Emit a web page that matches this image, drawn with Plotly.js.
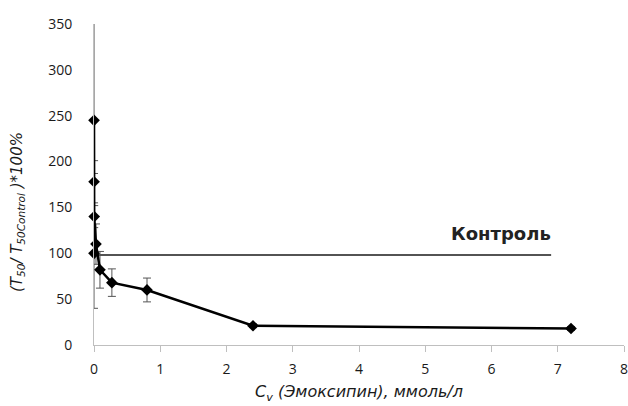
<!DOCTYPE html>
<html>
<head>
<meta charset="utf-8">
<script src="https://cdn.plot.ly/plotly-3.0.1.min.js"></script>
<style>html,body{margin:0;padding:0;background:#fff;}#chart{width:628px;height:406px;}</style>
</head>
<body>
<div id="chart"></div>
<script>
// Concentration of Emoxipin, mmol/l
const concentration = [0, 0.0003, 0.001, 0.003, 0.03, 0.09, 0.27, 0.8, 2.4, 7.2];
// (T50 / T50Control) * 100%
const ratioPercent = [100, 245, 178, 140, 110, 82, 68, 60, 21, 18];
const errPlus  = [10, 107, 23, 12, 22, 20, 15, 13, 2, 2];
const errMinus = [60, 58, 23, 12, 22, 20, 15, 13, 2, 2];
// Control level
const controlX = [0, 6.9];
const controlY = [98, 98];
const controlLabel = 'Контроль';
const xTicks = [0, 1, 2, 3, 4, 5, 6, 7, 8];
const yTicks = [0, 50, 100, 150, 200, 250, 300, 350];

const traces = [
  {
    x: controlX, y: controlY, type: 'scatter', mode: 'lines',
    line: {color: '#1a1a1a', width: 1.5}, hoverinfo: 'skip', showlegend: false
  },
  {
    x: concentration, y: ratioPercent, type: 'scatter', mode: 'lines+markers',
    cliponaxis: false,
    line: {color: '#000', width: 2.5},
    marker: {symbol: 'diamond', size: 9, color: '#000'},
    error_y: {type: 'data', symmetric: false, array: errPlus, arrayminus: errMinus,
              color: '#555', thickness: 1, width: 4},
    showlegend: false
  }
];

const layout = {
  width: 628, height: 406,
  margin: {l: 94, r: 4, t: 24, b: 61},
  paper_bgcolor: '#fff', plot_bgcolor: '#fff',
  font: {family: '"Open Sans", "DejaVu Sans", sans-serif', size: 14, color: '#222'},
  showlegend: false,
  xaxis: {
    range: [0, 8], tickvals: xTicks, ticktext: xTicks.map(String),
    showgrid: false, zeroline: false, showline: true, linecolor: '#bfbfbf', linewidth: 1,
    ticks: 'outside', ticklen: 6, tickcolor: '#bfbfbf', ticklabelstandoff: 5,
    ticklabeloverflow: 'allow',
    tickfont: {size: 14, color: '#1a1a1a'},
    title: {text: 'C<sub>v</sub> (Эмоксипин), ммоль/л', standoff: 9,
            font: {size: 16, style: 'italic', color: '#1a1a1a', family: '"DejaVu Sans", sans-serif'}}
  },
  yaxis: {
    range: [0, 350], tickvals: yTicks, ticktext: yTicks.map(String),
    showgrid: false, zeroline: false, showline: true, linecolor: '#bfbfbf', linewidth: 1,
    ticks: '', ticklabelstandoff: 18, ticklabeloverflow: 'allow',
    tickfont: {size: 14, color: '#1a1a1a'}
  },
  annotations: [
    {
      x: 6.14, y: 122, xref: 'x', yref: 'y', text: controlLabel, showarrow: false,
      font: {size: 18, weight: 'bold', color: '#222', family: '"DejaVu Sans", sans-serif'}
    },
    {
      x: (17 - 94) / 530, y: (345 - 212) / 321, xref: 'paper', yref: 'paper', xanchor: 'center', yanchor: 'middle',
      text: '(T<sub>50</sub>/ T<sub>50Control</sub> )*100%', textangle: -90, showarrow: false,
      font: {size: 15, style: 'italic', color: '#1a1a1a', family: '"DejaVu Sans", sans-serif'}
    }
  ]
};

Plotly.newPlot('chart', traces, layout, {displayModeBar: false, staticPlot: true});
</script>
</body>
</html>
